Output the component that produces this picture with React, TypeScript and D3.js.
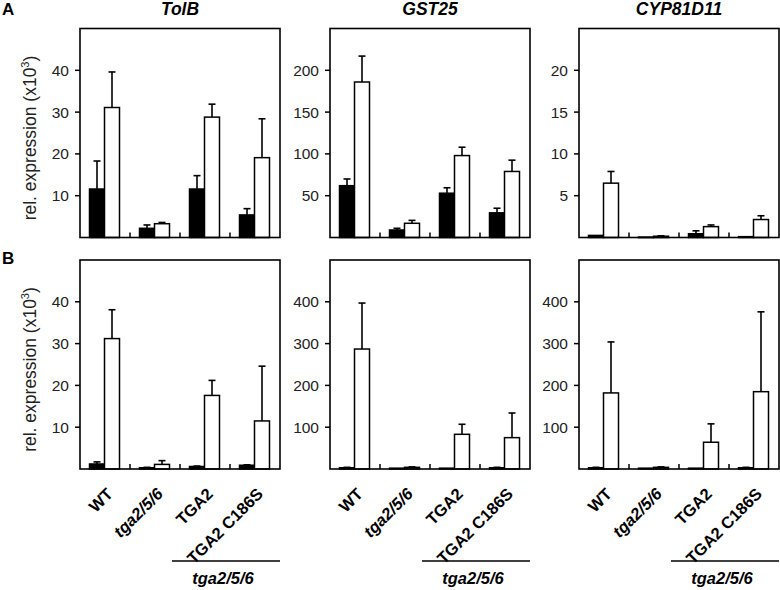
import React from "react"
import * as d3 from "d3"

// genotypes on the x axis and genes on the panels
const genotypes = ["WT", "tga2/5/6", "TGA2", "TGA2 C186S"]
const genes = ["TolB", "GST25", "CYP81D11"]
const italicGenotypes = ["tga2/5/6"]
const complementedGroup = "tga2/5/6"

// row A: axis max + ticks per gene
const maxA = [50, 250, 25]
const ticksA = [
  [10, 20, 30, 40],
  [50, 100, 150, 200],
  [5, 10, 15, 20],
]
// row B
const maxB = [50, 500, 500]
const ticksB = [
  [10, 20, 30, 40],
  [100, 200, 300, 400],
  [100, 200, 300, 400],
]

// row A values (filled = black bars, open = white bars), error = upper SD
const tolbA_filled = [11.6, 2.2, 11.6, 5.4]
const tolbA_filledErr = [6.7, 0.8, 3.2, 1.5]
const tolbA_open = [31.1, 3.3, 28.8, 19.1]
const tolbA_openErr = [8.5, 0.3, 3.1, 9.3]

const gst25A_filled = [62, 9, 53, 29.5]
const gst25A_filledErr = [8, 2, 6.5, 5.5]
const gst25A_open = [186, 17, 98, 79]
const gst25A_openErr = [31, 3.5, 10, 13.5]

const cypA_filled = [0.25, 0.05, 0.45, 0.1]
const cypA_filledErr = [0, 0, 0.35, 0]
const cypA_open = [6.5, 0.15, 1.3, 2.15]
const cypA_openErr = [1.4, 0.05, 0.2, 0.45]

// row B values
const tolbB_filled = [1.2, 0.3, 0.6, 0.9]
const tolbB_filledErr = [0.5, 0.1, 0.1, 0.1]
const tolbB_open = [31.2, 1.1, 17.6, 11.5]
const tolbB_openErr = [6.9, 0.9, 3.6, 13.1]

const gst25B_filled = [3, 2, 2, 3]
const gst25B_filledErr = [1, 0, 0, 1]
const gst25B_open = [287, 4, 83, 75]
const gst25B_openErr = [110, 1, 24, 59]

const cypB_filled = [3, 2, 2, 3]
const cypB_filledErr = [1, 0, 0, 1]
const cypB_open = [182, 4, 64, 185]
const cypB_openErr = [122, 1, 44, 191]

const FONT = "'Liberation Sans', Arial, Helvetica, sans-serif"
const panelX = [80, 330, 579]
const panelW = 200
const rowTop = [28.5, 260]
const panelH = 209

interface PanelProps {
  x0: number
  y0: number
  yMax: number
  ticks: number[]
  filled: number[]
  filledErr: number[]
  open: number[]
  openErr: number[]
  showXLabels: boolean
  showYTitle: boolean
}

function Panel({ x0, y0, yMax, ticks, filled, filledErr, open, openErr, showXLabels, showYTitle }: PanelProps) {
  const x = d3.scaleBand<string>().domain(genotypes).range([x0, x0 + panelW])
  const sub = d3.scaleBand<string>().domain(["filled", "open"]).range([9.5, 39.5])
  const y = d3.scaleLinear().domain([0, yMax]).range([y0 + panelH, y0])
  const base = y(0)

  const series = [
    { key: "filled", vals: filled, errs: filledErr, fill: "#000" },
    { key: "open", vals: open, errs: openErr, fill: "#fff" },
  ]

  return (
    <g>
      {series.map(s =>
        genotypes.map((g, i) => {
          const bx = (x(g) as number) + (sub(s.key) as number)
          const bw = sub.bandwidth()
          const cx = bx + bw / 2
          const top = y(s.vals[i])
          const et = y(s.vals[i] + s.errs[i])
          return (
            <g key={s.key + g}>
              {s.errs[i] > 0 && (
                <g stroke="#000" strokeWidth={1.6}>
                  <line x1={cx} x2={cx} y1={top} y2={et} />
                  <line x1={cx - 3.5} x2={cx + 3.5} y1={et} y2={et} />
                </g>
              )}
              <rect x={bx} y={top} width={bw} height={Math.max(base - top, 0.5)} fill={s.fill} stroke="#000" strokeWidth={1.5} />
            </g>
          )
        })
      )}
      {/* frame */}
      <rect x={x0} y={y0} width={panelW} height={panelH} fill="none" stroke="#000" strokeWidth={1.6} />
      {/* group separators */}
      {genotypes.slice(1).map(g => (
        <line key={g} x1={x(g)} x2={x(g)} y1={base} y2={base - 5} stroke="#000" strokeWidth={1.5} />
      ))}
      {/* y ticks */}
      {ticks.map(t => (
        <g key={t}>
          <line x1={x0 - 5} x2={x0} y1={y(t)} y2={y(t)} stroke="#000" strokeWidth={1.5} />
          <text x={x0 - 11} y={y(t)} dy="0.36em" textAnchor="end" fontSize={15.5} fontFamily={FONT} fill="#222">
            {t}
          </text>
        </g>
      ))}
      {showYTitle && (
        <text
          transform={`translate(36,${y0 + panelH / 2 + 5}) rotate(-90)`}
          textAnchor="middle"
          fontSize={17.5}
          fontFamily={FONT}
          fill="#222"
        >
          rel. expression (x10<tspan fontSize={11} dy={-7}>3</tspan><tspan dy={7}>)</tspan>
        </text>
      )}
      {showXLabels && (
        <g>
          {genotypes.map(g => {
            const cx = (x(g) as number) + x.bandwidth() / 2
            return (
              <text
                key={g}
                transform={`translate(${cx + 9},495) rotate(-45)`}
                textAnchor="end"
                fontSize={16.5}
                fontWeight="bold"
                fontStyle={italicGenotypes.includes(g) ? "italic" : "normal"}
                fontFamily={FONT}
              >
                {g}
              </text>
            )
          })}
          <line x1={x0 + 92} x2={x0 + panelW} y1={561} y2={561} stroke="#000" strokeWidth={1.6} />
          <text x={x0 + 143} y={584} textAnchor="middle" fontSize={16.5} fontWeight="bold" fontStyle="italic" fontFamily={FONT}>
            {complementedGroup}
          </text>
        </g>
      )}
    </g>
  )
}

export default function App() {
  const rowA = [
    [tolbA_filled, tolbA_filledErr, tolbA_open, tolbA_openErr],
    [gst25A_filled, gst25A_filledErr, gst25A_open, gst25A_openErr],
    [cypA_filled, cypA_filledErr, cypA_open, cypA_openErr],
  ]
  const rowB = [
    [tolbB_filled, tolbB_filledErr, tolbB_open, tolbB_openErr],
    [gst25B_filled, gst25B_filledErr, gst25B_open, gst25B_openErr],
    [cypB_filled, cypB_filledErr, cypB_open, cypB_openErr],
  ]

  return (
    <svg width={780} height={590} style={{ position: "absolute", left: 0, top: 0, background: "#fff" }}>
      <text x={2} y={15} fontSize={17} fontWeight="bold" fontFamily={FONT}>A</text>
      <text x={2} y={264} fontSize={17} fontWeight="bold" fontFamily={FONT}>B</text>
      {genes.map((gene, i) => (
        <text key={gene} x={panelX[i] + panelW / 2} y={15} textAnchor="middle" fontSize={17.5} fontWeight="bold" fontStyle="italic" fontFamily={FONT}>
          {gene}
        </text>
      ))}
      {rowA.map((d, i) => (
        <Panel
          key={"A" + i}
          x0={panelX[i]}
          y0={rowTop[0]}
          yMax={maxA[i]}
          ticks={ticksA[i]}
          filled={d[0]}
          filledErr={d[1]}
          open={d[2]}
          openErr={d[3]}
          showXLabels={false}
          showYTitle={i === 0}
        />
      ))}
      {rowB.map((d, i) => (
        <Panel
          key={"B" + i}
          x0={panelX[i]}
          y0={rowTop[1]}
          yMax={maxB[i]}
          ticks={ticksB[i]}
          filled={d[0]}
          filledErr={d[1]}
          open={d[2]}
          openErr={d[3]}
          showXLabels={true}
          showYTitle={i === 0}
        />
      ))}
    </svg>
  )
}
